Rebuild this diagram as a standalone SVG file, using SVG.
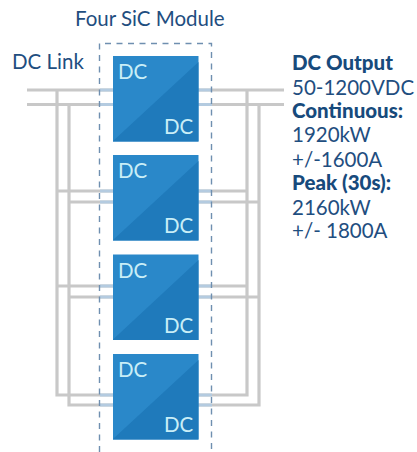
<svg xmlns="http://www.w3.org/2000/svg" width="417" height="452" viewBox="0 0 417 452">
<style>
text{font-family:Lato,"Liberation Sans",sans-serif;fill:#1f4e80;font-size:20.5px}
.b{font-weight:900;fill:#174a7c}
.d{fill:#c9eef7;font-size:20.5px}
.w{fill:none;stroke:#c8c8c8;stroke-width:3.2}
.s{fill:none;stroke:#b4cbe0;stroke-width:3.2}
.x{fill:none;stroke:#6f8fb0;stroke-width:1.4;stroke-dasharray:6 5.5}
.m{fill:#2a88c9}
.t{fill:#1f7abb}
</style>
<rect width="417" height="452" fill="#fff"/>
<g id="connectors">
<path class="w" d="M27 90H284M27 104.500H284"/>
<path class="w" d="M57 90V395H113M69 104.500V405H113M247 90V395H198M259 104.500V405H198"/>
<path class="w" d="M57 191H113M69 202H113M198 191H247M198 202H259M57 286H113M69 297H113M198 286H247M198 297H259"/>
<path class="s" d="M100 90H113M100 104.500H113M198 90H212M198 104.500H212M100 191H113M100 202H113M198 191H212M198 202H212M100 286H113M100 297H113M198 286H212M198 297H212M100 395H113M100 405H113M198 395H212M198 405H212"/>
</g>
<g id="boundary">
<path class="x" d="M99.500 452V43.500H211.500V452"/>
<text x="75" y="26">Four SiC Module</text>
</g>
<text id="dc-link" x="12" y="69">DC Link</text>
<g id="module-1"><rect class="m" x="113" y="56" width="85.500" height="85.500"/><path class="t" d="M198.500 62V141.500H113V141Z"/><text class="d" x="118" y="79">DC</text><text class="d" x="164" y="134">DC</text></g>
<g id="module-2"><rect class="m" x="113" y="155" width="85.500" height="85.500"/><path class="t" d="M198.500 161V240.500H113V240Z"/><text class="d" x="118" y="178">DC</text><text class="d" x="164" y="233">DC</text></g>
<g id="module-3"><rect class="m" x="113" y="254.500" width="85.500" height="85.500"/><path class="t" d="M198.500 260V340H113V339.500Z"/><text class="d" x="118" y="277.500">DC</text><text class="d" x="164" y="332.500">DC</text></g>
<g id="module-4"><rect class="m" x="113" y="354" width="85.500" height="85.500"/><path class="t" d="M198.500 360V439.500H113V439Z"/><text class="d" x="118" y="377">DC</text><text class="d" x="164" y="432">DC</text></g>
<g id="specs">
<text class="b" x="292" y="70">DC Output</text>
<text x="292" y="95">50-1200VDC</text>
<text class="b" x="292" y="118">Continuous:</text>
<text x="292" y="142">1920kW</text>
<text x="292" y="167">+/-1600A</text>
<text class="b" x="292" y="190">Peak (30s):</text>
<text x="292" y="215">2160kW</text>
<text x="292" y="238">+/- 1800A</text>
</g>
</svg>
